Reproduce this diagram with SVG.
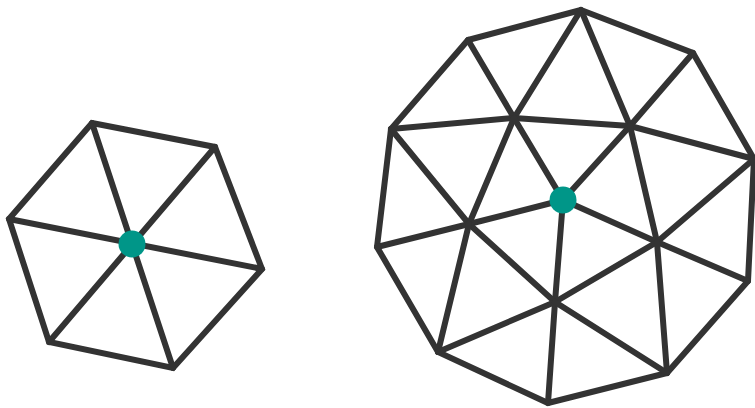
<svg xmlns="http://www.w3.org/2000/svg" width="755" height="408" viewBox="0 0 755 408">
<style>
.e{stroke:#333333;stroke-width:6;fill:none;stroke-linecap:round;stroke-linejoin:miter}
.n{fill:#009688}
</style>
<rect width="755" height="408" fill="#ffffff"/>
<g id="connectors" class="e">
<polygon points="92,123 215,147 262,269 173,368 49,342 9,219"/>
<line x1="92" y1="123" x2="173" y2="368"/>
<line x1="215" y1="147" x2="49" y2="342"/>
<line x1="9" y1="219" x2="262" y2="269"/>
<polygon points="581,10 693,53 754,159 748,281 667,373 548,403 438,352 377,247 391,129 468,40"/>
<line x1="468" y1="40" x2="514" y2="118"/>
<line x1="581" y1="10" x2="514" y2="118"/>
<line x1="581" y1="10" x2="630" y2="126"/>
<line x1="693" y1="53" x2="630" y2="126"/>
<line x1="391" y1="129" x2="514" y2="118"/>
<line x1="514" y1="118" x2="630" y2="126"/>
<line x1="630" y1="126" x2="754" y2="159"/>
<line x1="391" y1="129" x2="469" y2="224"/>
<line x1="514" y1="118" x2="469" y2="224"/>
<line x1="514" y1="118" x2="563" y2="200"/>
<line x1="630" y1="126" x2="563" y2="200"/>
<line x1="630" y1="126" x2="657" y2="242"/>
<line x1="754" y1="159" x2="657" y2="242"/>
<line x1="377" y1="247" x2="469" y2="224"/>
<line x1="469" y1="224" x2="563" y2="200"/>
<line x1="563" y1="200" x2="657" y2="242"/>
<line x1="563" y1="200" x2="555" y2="302"/>
<line x1="469" y1="224" x2="555" y2="302"/>
<line x1="469" y1="224" x2="438" y2="352"/>
<line x1="657" y1="242" x2="555" y2="302"/>
<line x1="657" y1="242" x2="748" y2="281"/>
<line x1="657" y1="242" x2="667" y2="373"/>
<line x1="555" y1="302" x2="438" y2="352"/>
<line x1="555" y1="302" x2="548" y2="403"/>
<line x1="555" y1="302" x2="667" y2="373"/>
</g>
<g id="node-left"><circle class="n" cx="132" cy="244" r="13.5"/></g>
<g id="node-right"><circle class="n" cx="563" cy="200" r="13.5"/></g>
</svg>
